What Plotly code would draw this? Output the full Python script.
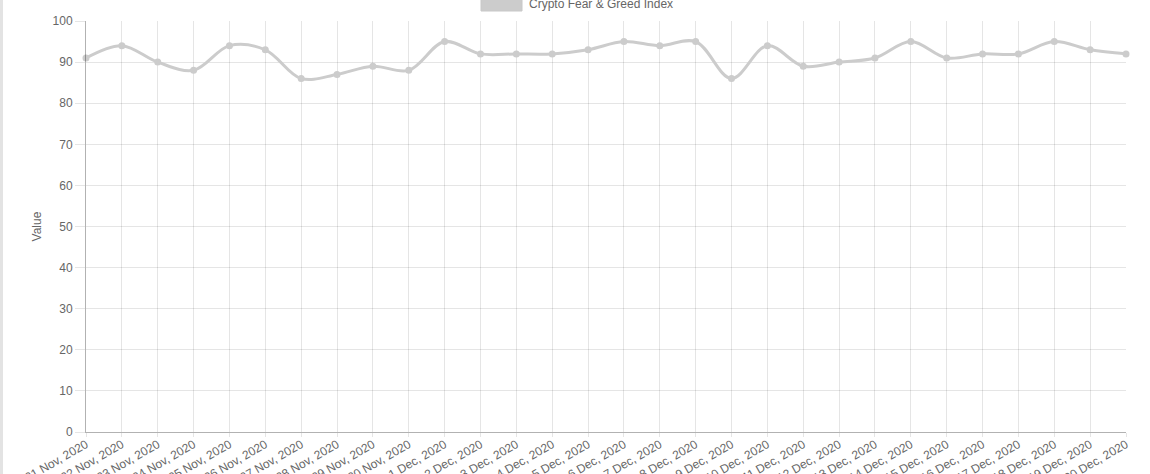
import plotly.graph_objects as go

dates = [f"{d} Nov, 2020" for d in range(21, 31)] + [f"{d} Dec, 2020" for d in range(1, 21)]
values = [91, 94, 90, 88, 94, 93, 86, 87, 89, 88,
          95, 92, 92, 92, 93, 95, 94, 95, 86, 94,
          89, 90, 91, 95, 91, 92, 92, 95, 93, 92]
series_name = "Crypto Fear & Greed Index"
y_ticks = list(range(0, 101, 10))

W, H = 1150, 474
L, R, T, B = 86, 24, 21, 42
pw, ph = W - L - R, H - T - B

FONT = "Arial, Liberation Sans, Helvetica, sans-serif"
GREY = "#666666"
LINE = "rgb(204,204,204)"

def px_x(x):
    return (x - L) / pw

def px_y(y):
    return (H - B - y) / ph

fig = go.Figure()
fig.add_trace(go.Scatter(
    x=dates, y=values, mode="lines+markers", name=series_name,
    line=dict(color=LINE, width=3, shape="spline", smoothing=1.0),
    marker=dict(color=LINE, size=7),
    cliponaxis=False, showlegend=False,
))

# Chart.js-like legend box
fig.add_shape(type="rect", xref="paper", yref="paper",
              x0=px_x(481), x1=px_x(522), y0=px_y(11), y1=px_y(-2),
              fillcolor=LINE, line=dict(color="rgb(200,200,200)", width=1))
fig.add_annotation(xref="paper", yref="paper", x=px_x(527), y=px_y(4),
                   text=series_name, showarrow=False, xanchor="left", yanchor="middle",
                   font=dict(family=FONT, size=12, color=GREY))
# page border on left
fig.add_shape(type="line", xref="paper", yref="paper",
              x0=px_x(1.5), x1=px_x(1.5), y0=px_y(H + 5), y1=px_y(-5),
              line=dict(color="#e3e3e3", width=3))

fig.update_layout(
    width=W, height=H,
    margin=dict(l=L, r=R, t=T, b=B, autoexpand=False),
    paper_bgcolor="white", plot_bgcolor="white",
    font=dict(family=FONT, size=12, color=GREY),
    showlegend=False,
)
fig.update_xaxes(
    type="category", range=[0, len(dates) - 1], automargin=False,
    tickangle=-30, tickfont=dict(size=12, color=GREY),
    showgrid=True, gridcolor="rgba(0,0,0,0.1)", gridwidth=1,
    ticks="outside", ticklen=4, tickcolor="rgba(0,0,0,0.1)",
    ticklabelstandoff=-4,
    showline=True, linecolor="rgba(0,0,0,0.3)", linewidth=1,
    zeroline=False,
)
fig.update_yaxes(
    range=[0, 100], tickvals=y_ticks, automargin=False,
    tickfont=dict(size=12, color=GREY),
    showgrid=True, gridcolor="rgba(0,0,0,0.1)", gridwidth=1,
    ticks="outside", ticklen=10, tickcolor="rgba(0,0,0,0.1)",
    showline=True, linecolor="rgba(0,0,0,0.3)", linewidth=1,
    zeroline=False,
    title=dict(text="Value", font=dict(size=12, color=GREY), standoff=8),
)

fig.write_html("out.html", config={"displayModeBar": False},
               post_script="document.body.style.margin='0';")
